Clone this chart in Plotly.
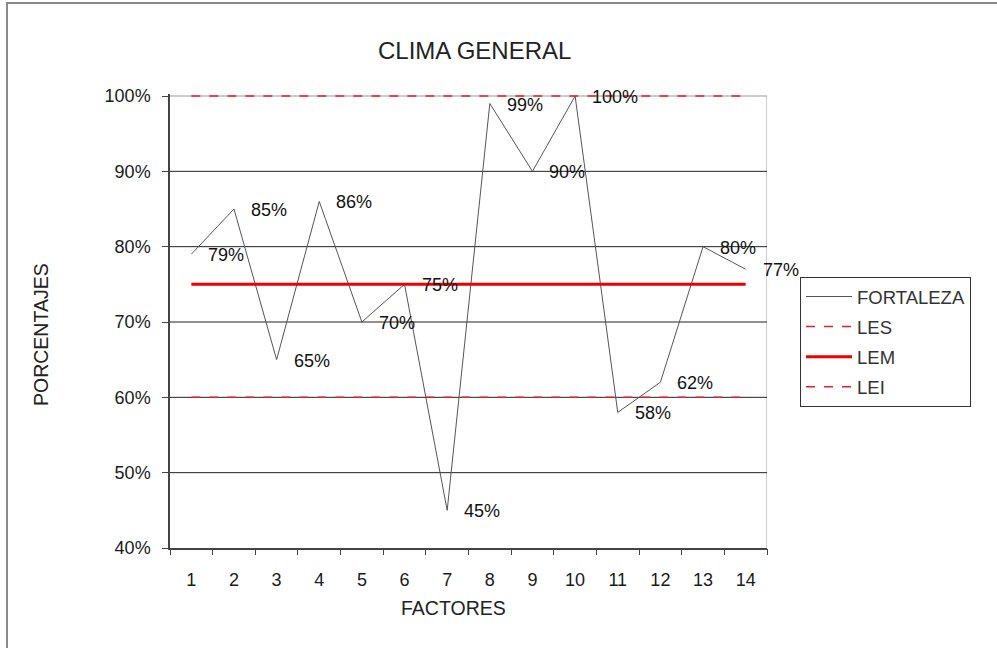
import plotly.graph_objects as go

# Data
factores = list(range(1, 15))
fortaleza = [79, 85, 65, 86, 70, 75, 45, 99, 90, 100, 58, 62, 80, 77]
les = 100
lem = 75
lei = 60
y_ticks = [40, 50, 60, 70, 80, 90, 100]

W, H = 997, 648
FONT = "Arial, 'Liberation Sans', sans-serif"

# plot area in pixels
px_l, px_r, px_t, px_b = 170, 767, 96, 548
y_min, y_max = 40, 100
y_pad = 0.2  # a little headroom so the top limit line is not clipped
px_per_unit = (px_b - px_t) / (y_max - y_min)


def fx(px):
    return px / W


def fy(py):
    return 1 - py / H


x_range = [factores[0] - 0.5, factores[-1] + 0.5]
boundaries = [f - 0.5 for f in factores] + [factores[-1] + 0.5]

fig = go.Figure()

fig.add_trace(go.Scatter(
    x=factores, y=fortaleza, mode="lines", name="FORTALEZA",
    line=dict(color="#555555", width=1), legendgroup="a",
))
fig.add_trace(go.Scatter(
    x=factores, y=[les] * len(factores), mode="lines", name="LES",
    line=dict(color="#e0202a", width=1.5, dash="dash"), legendgroup="b",
))
fig.add_trace(go.Scatter(
    x=factores, y=[lem] * len(factores), mode="lines", name="LEM",
    line=dict(color="#ee0000", width=3), legendgroup="c",
))
fig.add_trace(go.Scatter(
    x=factores, y=[lei] * len(factores), mode="lines", name="LEI",
    line=dict(color="#e0202a", width=1.5, dash="dash"), legendgroup="d",
))

annotations = []
for xf, v in zip(factores, fortaleza):
    annotations.append(dict(
        x=xf, y=v, xref="x", yref="y", text=f"{v}%", showarrow=False,
        xanchor="left", yanchor="middle", xshift=15, yshift=-1,
        font=dict(family=FONT, size=18, color="#111111"),
    ))

annotations += [
    dict(x=fx(474), y=fy(50), xref="paper", yref="paper", text="CLIMA GENERAL",
         showarrow=False, xanchor="center", yanchor="middle",
         font=dict(family=FONT, size=24, color="#222222")),
    dict(x=fx(453), y=fy(608), xref="paper", yref="paper", text="FACTORES",
         showarrow=False, xanchor="center", yanchor="middle",
         font=dict(family=FONT, size=19.5, color="#222222")),
    dict(x=fx(41), y=fy(335), xref="paper", yref="paper", text="PORCENTAJES",
         showarrow=False, xanchor="center", yanchor="middle", textangle=-90,
         font=dict(family=FONT, size=19.5, color="#222222")),
]

shapes = [
    # outer frame
    dict(type="rect", xref="paper", yref="paper",
         x0=fx(7), x1=1.02, y0=-0.02, y1=fy(3),
         line=dict(color="#8a8a8a", width=2), fillcolor="rgba(0,0,0,0)", layer="below"),
    # plot area border (top and right)
    dict(type="line", xref="x", yref="y", x0=x_range[0], x1=x_range[1],
         y0=y_max, y1=y_max, line=dict(color="#9a9a9a", width=1), layer="below"),
    dict(type="line", xref="x", yref="y", x0=x_range[1], x1=x_range[1],
         y0=y_min, y1=y_max, line=dict(color="#9a9a9a", width=1), layer="below"),
]
# horizontal gridlines inside the plot
for t in y_ticks[1:-1]:
    shapes.append(dict(type="line", xref="x", yref="y", x0=x_range[0], x1=x_range[1],
                       y0=t, y1=t, line=dict(color="#222222", width=1), layer="below"))

tick_font = dict(family=FONT, size=18, color="#1a1a1a")

fig.update_layout(
    width=W, height=H,
    margin=dict(l=0, r=0, t=0, b=0),
    paper_bgcolor="white", plot_bgcolor="white",
    font=dict(family=FONT, size=17, color="#222222"),
    showlegend=True,
    legend=dict(
        x=fx(800), y=fy(277), xanchor="left", yanchor="top",
        bordercolor="#333333", borderwidth=1, bgcolor="white",
        font=dict(family=FONT, size=18.5, color="#333333"),
        traceorder="grouped", tracegroupgap=3, itemwidth=46,
    ),
    xaxis=dict(
        domain=[fx(px_l), fx(px_r)], range=x_range, automargin=False,
        tickvals=factores, ticktext=[str(f) for f in factores], ticks="",
        showline=True, linecolor="#444444", linewidth=1.5,
        showgrid=False, zeroline=False,
        tickfont=tick_font, ticklabelstandoff=15,
    ),
    # boundary tick marks between factors
    xaxis2=dict(
        overlaying="x", matches="x", anchor="y", side="bottom", automargin=False,
        tickvals=boundaries, ticks="outside", ticklen=6, tickcolor="#444444",
        showticklabels=False, showgrid=False, zeroline=False, showline=False,
    ),
    yaxis=dict(
        domain=[fy(px_b), fy(px_t - y_pad * px_per_unit)],
        range=[y_min, y_max + y_pad], automargin=False,
        tickvals=y_ticks, ticktext=[f"{t}%" for t in y_ticks],
        ticks="outside", ticklen=6, tickcolor="#444444",
        showline=True, linecolor="#444444", linewidth=1.5,
        showgrid=False, zeroline=False,
        tickfont=tick_font, ticklabelstandoff=8,
    ),
    annotations=annotations,
    shapes=shapes,
)

# invisible trace so the boundary-tick axis is drawn
fig.add_trace(go.Scatter(x=x_range, y=[None, None], xaxis="x2", yaxis="y",
                         showlegend=False, hoverinfo="skip"))

fig.write_html("out.html")
